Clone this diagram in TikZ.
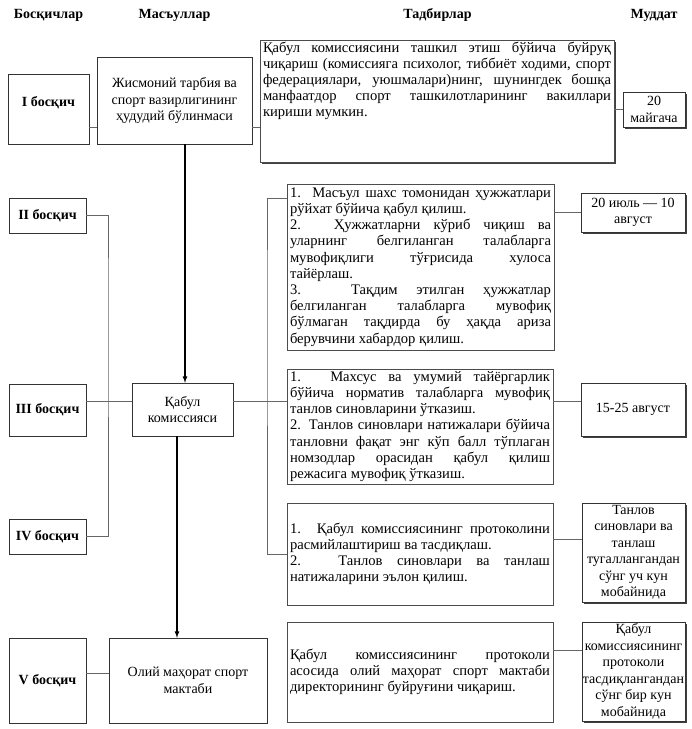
\documentclass[tikz,border=0pt]{standalone}
\usepackage{fontspec}
\setmainfont{Liberation Serif}
\usetikzlibrary{arrows,shadows}
\setlength{\parindent}{0pt}
\newcommand{\cellfont}{\fontsize{14}{16.5}\selectfont\tolerance=9999 \hyphenpenalty=10000 }
\newcommand{\taskfont}{\fontsize{14.6}{16.2}\selectfont\tolerance=9999 \hyphenpenalty=10000 }

\begin{document}
\begin{tikzpicture}[x=1pt, y=-1pt]
        \tikzset{
            head/.style={font=\fontsize{14}{16.5}\selectfont\bfseries},
            stage/.style={draw=black!80, font=\fontsize{14}{16.5}\selectfont\bfseries, align=center, inner sep=1pt, minimum width=77pt},
            resp/.style={draw=black!80, align=center, inner sep=1pt, font=\cellfont},
            task/.style={draw=black!70, fill=white, align=justify, inner xsep=3pt, inner ysep=2pt, font=\taskfont},
            term/.style={draw=black!80, fill=white, align=center, inner sep=0pt, font=\cellfont, castshadow},
            castshadow/.style={drop shadow={shadow xshift=1.5pt, shadow yshift=-1.5pt, opacity=1, fill=black!75}},
            link/.style={draw=black!60, line width=0.8pt},
            flow/.style={->, >=latex, line width=1.2pt}
        }
        \useasboundingbox (0,0) rectangle (692,729);

        % Headers
        \node[head] (h1) at (48.5,15) {Босқичлар};
        \node[head] (h2) at (174.5,15) {Масъуллар};
        \node[head] (h3) at (437.5,15) {Тадбирлар};
        \node[head] (h4) at (654,15) {Муддат};

        % Stages
        \node[stage, minimum width=81pt, text height=31pt, text depth=37pt] (st1) at (48.5,109) {I босқич};
        \node[stage, minimum height=35pt] (st2) at (47.5,215.5) {II босқич};
        \node[stage, minimum height=52pt] (st3) at (47.5,410) {III босқич};
        \node[stage, minimum height=35pt] (st4) at (47.5,536.5) {IV босқич};
        \node[stage, minimum height=85pt] (st5) at (47.5,680.5) {V босқич};

        % Responsible
        \node[resp, minimum width=155pt, minimum height=87pt] (res1) at (174.5,100.5) {Жисмоний тарбия ва\\спорт вазирлигининг\\ҳудудий бўлинмаси};
        \node[resp, minimum width=101pt, minimum height=53pt] (res2) at (182.5,409.5) {Қабул\\комиссияси};
        \node[resp, minimum width=158pt, minimum height=85pt] (res3) at (188,680.5) {Олий маҳорат спорт\\мактаби};

        % Tasks
        \node[task, castshadow, text width=348pt, text height=10pt, text depth=108pt] (act1) at (437,101) {Қабул комиссиясини ташкил этиш бўйича буйруқ\linebreak чиқариш (комиссияга психолог, тиббиёт ходими, спорт\linebreak федерациялари, уюшмалари)нинг, шунингдек бошқа\linebreak манфаатдор спорт ташкилотларининг вакиллари\linebreak кириши мумкин.};
        \node[task, text width=261pt, minimum height=166pt] (act2) at (420.5,267) {1. Масъул шахс томонидан ҳужжатлари\linebreak рўйхат бўйича қабул қилиш.\par 2. Ҳужжатларни кўриб чиқиш ва\linebreak уларнинг белгиланган талабларга\linebreak мувофиқлиги тўғрисида хулоса\linebreak тайёрлаш.\par 3. Тақдим этилган ҳужжатлар\linebreak белгиланган талабларга мувофиқ\linebreak бўлмаган тақдирда бу ҳақда ариза\linebreak берувчини хабардор қилиш.};
        \node[task, text width=260pt, minimum height=115pt] (act3) at (420,426.5) {1. Махсус ва умумий тайёргарлик\linebreak бўйича норматив талабларга мувофиқ\linebreak танлов синовларини ўтказиш.\par 2. Танлов синовлари натижалари бўйича\linebreak танловни фақат энг кўп балл тўплаган\linebreak номзодлар орасидан қабул қилиш\linebreak режасига мувофиқ ўтказиш.};
        \node[task, text width=260pt, minimum height=102pt] (act4) at (420,554) {1. Қабул комиссиясининг протоколини\linebreak расмийлаштириш ва тасдиқлаш.\par 2. Танлов синовлари ва танлаш\linebreak натижаларини эълон қилиш.};
        \node[task, text width=260pt, minimum height=100pt] (act5) at (420,672) {Қабул комиссиясининг протоколи\linebreak асосида олий маҳорат спорт мактаби\linebreak директорининг буйруғини чиқариш.};

        % Terms
        \node[term, minimum width=62pt, minimum height=35pt] (d1) at (654,109.5) {20\\майгача};
        \node[term, minimum width=104pt, minimum height=39pt] (d2) at (633,212.5) {20 июль — 10\\август};
        \node[term, minimum width=104pt, minimum height=53pt] (d3) at (633,409.5) {15-25 август};
        \node[term, minimum width=103pt, minimum height=99pt] (d4) at (633.5,552.5) {Танлов\\синовлари ва\\танлаш\\тугаллангандан\\сўнг уч кун\\мобайнида};
        \node[term, minimum width=103pt, minimum height=99pt] (d5) at (633.5,671.5) {Қабул\\комиссиясининг\\протоколи\\тасдиқлангандан\\сўнг бир кун\\мобайнида};

        % Joints
        \coordinate (j1) at ([yshift=-18pt]st1.east);
        \coordinate (j2) at ([yshift=-15pt]act2.north west);
        \coordinate (j3) at ([yshift=8.5pt]st3.east);
        \coordinate (j4) at ([yshift=14.5pt]act4.east);
        \coordinate (j5) at ([yshift=22pt]act5.east);
        \coordinate (j6) at ([yshift=7.5pt]st5.east);
        \coordinate (busl) at (108,300);
        \coordinate (busr) at (267,300);
        \coordinate (a1) at ([xshift=10.5pt]res1.south);
        \coordinate (a2) at ([xshift=-5.5pt]res2.south);

        % Connectors
        \draw[link] (j1) -- (j1 -| res1.west);
        \draw[link] (j1 -| res1.east) -- (j1 -| act1.west);
        \draw[link] (d1.west -| act1.east) -- (d1.west);
        \draw[link] (st2.east) -| (busl) |- (st4.east);
        \draw[link] (j3) -- (j3 -| res2.west);
        \draw[link] (j3 -| res2.east) -- (j3 -| act3.west);
        \draw[link] (j3 -| act3.east) -- (j3 -| d3.west);
        \draw[link] (j2) -| (busr) |- (act4.west);
        \draw[link] (d2.west -| act2.east) -- (d2.west);
        \draw[link] (j4) -- (j4 -| d4.west);
        \draw[link] (j5) -- (j5 -| d5.west);
        \draw[link] (j6) -- (j6 -| res3.west);
        \draw[flow] (a1) -- (a1 |- res2.north);
        \draw[flow] (a2) -- (a2 |- res3.north);
    \end{tikzpicture}
\end{document}
